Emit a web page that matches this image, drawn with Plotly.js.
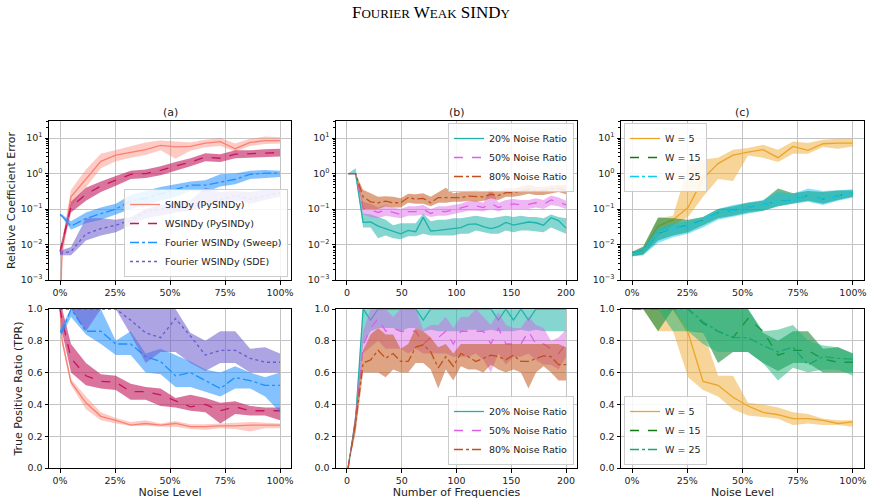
<!DOCTYPE html>
<html>
<head>
<meta charset="utf-8">
<script src="https://cdn.plot.ly/plotly-3.0.1.min.js"></script>
<style>html,body{margin:0;padding:0;background:#fff;}#chart{width:873px;height:503px;}</style>
</head>
<body>
<div id="chart"></div>
<script>
// ---------- data ----------
const noiseX = [0, 1, 5, 11.79, 18.57, 25.36, 32.14, 38.93, 45.71, 52.5, 59.29, 66.07, 72.86, 79.64, 86.43, 93.21, 100];
const freqX = [1, 7.86, 14.72, 21.59, 28.45, 35.31, 42.17, 49.03, 55.9, 62.76, 69.62, 76.48, 83.34, 90.21, 97.07, 103.93, 110.79, 117.66, 124.52, 131.38, 138.24, 145.1, 151.97, 158.83, 165.69, 172.55, 179.41, 186.28, 193.14, 200];

// (a) relative coefficient error
const sindyErr   = [1e-4, 0.008, 0.22, 0.7, 2.2, 3.3, 4.0, 4.7, 6.2, 5.6, 5.8, 7.2, 7.9, 5.0, 7.5, 8.4, 8.4];
const sindyErrLo = [1e-5, 0.004, 0.12, 0.4, 1.4, 2.2, 2.8, 3.3, 4.5, 2.6, 4.4, 5.5, 6.0, 4.2, 6.0, 6.8, 7.0];
const sindyErrHi = [4e-4, 0.013, 0.35, 1.3, 3.6, 4.6, 5.8, 7.5, 8.5, 8.0, 7.5, 9.0, 10.0, 7.0, 9.5, 11, 10.5];
const wsindyErr   = [0.0063, 0.011, 0.115, 0.26, 0.44, 0.65, 0.95, 1.0, 1.23, 1.63, 2.1, 2.9, 2.7, 3.5, 3.6, 3.8, 3.9];
const wsindyErrLo = [0.005, 0.008, 0.08, 0.17, 0.3, 0.45, 0.7, 0.75, 0.9, 1.2, 1.6, 2.2, 2.1, 2.7, 2.8, 2.9, 3.0];
const wsindyErrHi = [0.008, 0.015, 0.16, 0.4, 0.6, 0.85, 1.2, 1.3, 1.6, 2.1, 2.7, 3.7, 3.5, 4.5, 4.5, 4.8, 5.0];
const sweepErr   = [0.07, 0.063, 0.033, 0.054, 0.074, 0.10, 0.166, 0.2, 0.27, 0.35, 0.47, 0.47, 0.58, 0.69, 0.95, 1.03, 1.03];
const sweepErrLo = [0.065, 0.058, 0.026, 0.04, 0.05, 0.07, 0.1, 0.13, 0.17, 0.22, 0.32, 0.3, 0.43, 0.5, 0.7, 0.75, 0.8];
const sweepErrHi = [0.075, 0.07, 0.045, 0.08, 0.11, 0.14, 0.25, 0.33, 0.42, 0.5, 0.6, 0.65, 0.95, 1.0, 1.2, 1.25, 1.2];
const sdeErr   = [0.0058, 0.0058, 0.0063, 0.02, 0.028, 0.035, 0.048, 0.084, 0.098, 0.11, 0.13, 0.16, 0.18, 0.245, 0.19, 0.24, 0.29];
const sdeErrLo = [0.005, 0.005, 0.005, 0.013, 0.018, 0.022, 0.035, 0.055, 0.065, 0.08, 0.09, 0.12, 0.14, 0.17, 0.14, 0.18, 0.22];
const sdeErrHi = [0.007, 0.007, 0.0085, 0.055, 0.055, 0.05, 0.06, 0.1, 0.13, 0.16, 0.18, 0.4, 0.3, 0.32, 0.3, 0.35, 0.35];

// (a) true positive ratio
const sindyTpr   = [1.0, 0.8, 0.54, 0.41, 0.325, 0.30, 0.27, 0.28, 0.27, 0.28, 0.26, 0.26, 0.265, 0.265, 0.27, 0.27, 0.27];
const sindyTprLo = [1.0, 0.77, 0.52, 0.37, 0.30, 0.28, 0.265, 0.265, 0.26, 0.26, 0.245, 0.24, 0.25, 0.245, 0.23, 0.25, 0.25];
const sindyTprHi = [1.0, 0.83, 0.56, 0.45, 0.35, 0.315, 0.29, 0.30, 0.28, 0.295, 0.275, 0.275, 0.28, 0.285, 0.29, 0.285, 0.28];
const wsindyTpr   = [1.0, 0.93, 0.69, 0.58, 0.545, 0.54, 0.48, 0.48, 0.46, 0.42, 0.385, 0.40, 0.36, 0.385, 0.36, 0.36, 0.36];
const wsindyTprLo = [1.0, 0.85, 0.6, 0.52, 0.5, 0.49, 0.43, 0.43, 0.39, 0.38, 0.36, 0.35, 0.28, 0.34, 0.33, 0.33, 0.3];
const wsindyTprHi = [1.0, 1.0, 0.78, 0.66, 0.59, 0.58, 0.53, 0.51, 0.5, 0.44, 0.46, 0.44, 0.41, 0.42, 0.39, 0.38, 0.38];
const sweepTpr   = [0.86, 0.86, 1.0, 0.86, 0.86, 0.78, 0.78, 0.70, 0.67, 0.58, 0.60, 0.55, 0.50, 0.57, 0.55, 0.52, 0.52];
const sweepTprLo = [0.85, 0.84, 0.95, 0.84, 0.78, 0.71, 0.71, 0.6, 0.59, 0.51, 0.51, 0.48, 0.45, 0.5, 0.5, 0.45, 0.35];
const sweepTprHi = [0.87, 0.9, 1.0, 1.0, 1.0, 0.80, 0.86, 0.72, 0.75, 0.71, 0.67, 0.62, 0.60, 0.64, 0.60, 0.57, 0.6];
const sdeTpr   = [1.0, 1.0, 1.0, 1.0, 1.0, 1.0, 0.93, 0.85, 0.82, 0.94, 0.83, 0.71, 0.74, 0.74, 0.69, 0.665, 0.665];
const sdeTprLo = [1.0, 1.0, 1.0, 0.86, 1.0, 1.0, 0.84, 0.66, 0.73, 0.73, 0.66, 0.61, 0.66, 0.66, 0.6, 0.6, 0.6];
const sdeTprHi = [1.0, 1.0, 1.0, 1.0, 1.0, 1.0, 1.0, 1.0, 1.0, 1.0, 0.85, 0.8, 0.86, 0.86, 0.75, 0.76, 0.72];

// (b) relative coefficient error
const n20Err   = [1.0, 1.0, 0.042, 0.043, 0.033, 0.028, 0.023, 0.02, 0.025, 0.023, 0.058, 0.024, 0.025, 0.027, 0.029, 0.03, 0.037, 0.038, 0.032, 0.028, 0.032, 0.042, 0.035, 0.039, 0.043, 0.041, 0.035, 0.057, 0.047, 0.029];
const n20ErrLo = [1.0, 0.95, 0.03, 0.03, 0.015, 0.018, 0.015, 0.014, 0.017, 0.017, 0.02, 0.018, 0.018, 0.018, 0.018, 0.02, 0.02, 0.025, 0.022, 0.02, 0.02, 0.025, 0.022, 0.025, 0.025, 0.024, 0.022, 0.03, 0.025, 0.02];
const n20ErrHi = [1.0, 1.4, 0.075, 0.07, 0.06, 0.05, 0.035, 0.04, 0.04, 0.04, 0.075, 0.045, 0.05, 0.05, 0.055, 0.055, 0.06, 0.065, 0.06, 0.055, 0.06, 0.065, 0.06, 0.065, 0.06, 0.06, 0.055, 0.07, 0.06, 0.055];
const n50Err   = [1.0, 1.0, 0.104, 0.094, 0.08, 0.094, 0.08, 0.07, 0.084, 0.084, 0.098, 0.075, 0.088, 0.084, 0.094, 0.105, 0.123, 0.123, 0.11, 0.145, 0.11, 0.13, 0.14, 0.13, 0.135, 0.15, 0.135, 0.18, 0.16, 0.13];
const n50ErrLo = [1.0, 1.0, 0.07, 0.06, 0.055, 0.065, 0.06, 0.055, 0.065, 0.065, 0.07, 0.06, 0.065, 0.065, 0.07, 0.08, 0.09, 0.09, 0.085, 0.1, 0.085, 0.1, 0.1, 0.1, 0.1, 0.11, 0.1, 0.13, 0.12, 0.1];
const n50ErrHi = [1.0, 1.0, 0.16, 0.14, 0.11, 0.13, 0.11, 0.1, 0.12, 0.12, 0.13, 0.1, 0.12, 0.12, 0.13, 0.14, 0.17, 0.17, 0.15, 0.4, 0.15, 0.18, 0.19, 0.18, 0.18, 0.2, 0.18, 0.24, 0.21, 0.17];
const n80Err   = [1.0, 1.0, 0.22, 0.16, 0.15, 0.167, 0.15, 0.15, 0.21, 0.19, 0.2, 0.15, 0.21, 0.21, 0.21, 0.21, 0.23, 0.22, 0.22, 0.26, 0.24, 0.29, 0.29, 0.32, 0.36, 0.33, 0.33, 0.36, 0.38, 0.34];
const n80ErrLo = [1.0, 1.0, 0.1, 0.1, 0.1, 0.12, 0.11, 0.11, 0.15, 0.14, 0.14, 0.12, 0.15, 0.15, 0.16, 0.16, 0.17, 0.16, 0.17, 0.2, 0.18, 0.22, 0.22, 0.24, 0.27, 0.25, 0.25, 0.28, 0.3, 0.26];
const n80ErrHi = [1.0, 1.0, 0.35, 0.28, 0.22, 0.23, 0.22, 0.2, 0.27, 0.26, 0.28, 0.22, 0.3, 0.4, 0.28, 0.3, 0.32, 0.35, 0.3, 0.35, 0.32, 0.38, 0.38, 0.42, 0.48, 0.42, 0.42, 0.46, 0.48, 0.45];

// (b) true positive ratio
const n20Tpr   = [0, 0.3, 1.0, 0.93, 1.0, 1.0, 1.0, 1.0, 1.0, 1.0, 0.93, 1.0, 1.0, 1.0, 1.0, 1.0, 1.0, 1.0, 1.0, 1.0, 0.93, 1.0, 0.93, 1.0, 0.93, 1.0, 1.0, 1.0, 1.0, 1.0];
const n20TprLo = [0, 0.25, 0.78, 0.86, 0.88, 0.88, 0.88, 0.86, 0.88, 0.88, 0.86, 0.87, 0.86, 0.86, 0.86, 0.86, 0.87, 0.87, 0.86, 0.87, 0.86, 0.86, 0.86, 0.87, 0.86, 0.87, 0.86, 0.86, 0.86, 0.86];
const n20TprHi = [0, 0.35, 1.0, 1.0, 1.0, 1.0, 1.0, 1.0, 1.0, 1.0, 1.0, 1.0, 1.0, 1.0, 1.0, 1.0, 1.0, 1.0, 1.0, 1.0, 1.0, 1.0, 1.0, 1.0, 1.0, 1.0, 1.0, 1.0, 1.0, 1.0];
const n50Tpr   = [0, 0.3, 0.77, 0.88, 0.94, 0.86, 0.88, 0.86, 0.86, 0.86, 0.78, 0.82, 0.82, 0.86, 0.78, 0.86, 0.86, 0.86, 0.86, 0.78, 0.88, 0.78, 0.78, 0.78, 0.86, 0.78, 0.78, 0.75, 0.72, 0.78];
const n50TprLo = [0, 0.25, 0.72, 0.76, 0.8, 0.75, 0.75, 0.75, 0.72, 0.75, 0.72, 0.72, 0.72, 0.72, 0.7, 0.7, 0.7, 0.72, 0.68, 0.6, 0.72, 0.65, 0.7, 0.7, 0.72, 0.68, 0.65, 0.65, 0.62, 0.7];
const n50TprHi = [0, 0.35, 0.86, 1.0, 1.0, 1.0, 0.95, 1.0, 1.0, 1.0, 0.87, 0.9, 0.9, 0.95, 0.88, 0.95, 0.95, 1.0, 0.95, 0.9, 0.98, 0.9, 0.88, 0.88, 0.95, 0.9, 0.88, 0.8, 0.82, 0.87];
const n80Tpr   = [0, 0.28, 0.66, 0.68, 0.74, 0.69, 0.72, 0.67, 0.67, 0.76, 0.775, 0.73, 0.63, 0.70, 0.64, 0.72, 0.70, 0.67, 0.69, 0.71, 0.70, 0.68, 0.71, 0.67, 0.67, 0.69, 0.705, 0.70, 0.65, 0.65];
const n80TprLo = [0, 0.22, 0.6, 0.6, 0.6, 0.57, 0.62, 0.6, 0.6, 0.66, 0.66, 0.62, 0.5, 0.62, 0.55, 0.64, 0.62, 0.62, 0.6, 0.65, 0.62, 0.6, 0.62, 0.6, 0.5, 0.6, 0.64, 0.6, 0.55, 0.55];
const n80TprHi = [0, 0.34, 0.74, 0.84, 0.88, 0.84, 0.84, 0.75, 0.78, 0.88, 0.86, 0.82, 0.76, 0.78, 0.72, 0.78, 0.78, 0.78, 0.78, 0.78, 0.78, 0.78, 0.78, 0.78, 0.78, 0.78, 0.78, 0.78, 0.78, 0.76];

// (c) relative coefficient error
const w5Err   = [0.0056, 0.0058, 0.0069, 0.033, 0.05, 0.11, 0.72, 1.9, 3.3, 4.0, 4.7, 2.8, 5.8, 4.5, 6.9, 7.2, 7.2];
const w5ErrLo = [0.0048, 0.005, 0.005, 0.018, 0.035, 0.06, 0.22, 0.7, 0.62, 3.2, 2.8, 2.1, 3.6, 3.6, 5.6, 5.0, 5.8];
const w5ErrHi = [0.0065, 0.0068, 0.009, 0.055, 0.065, 1.6, 2.5, 2.8, 4.7, 5.2, 6.5, 4.7, 8.0, 7.2, 9.0, 9.6, 9.6];
const w15Err   = [0.0056, 0.0056, 0.0066, 0.021, 0.028, 0.035, 0.048, 0.079, 0.093, 0.11, 0.135, 0.16, 0.18, 0.245, 0.19, 0.24, 0.29];
const w15ErrLo = [0.0047, 0.0048, 0.0052, 0.013, 0.018, 0.022, 0.035, 0.055, 0.065, 0.08, 0.09, 0.12, 0.14, 0.17, 0.14, 0.18, 0.22];
const w15ErrHi = [0.0065, 0.0066, 0.0085, 0.058, 0.055, 0.05, 0.06, 0.1, 0.12, 0.15, 0.17, 0.38, 0.28, 0.32, 0.3, 0.33, 0.34];
const w25Err   = [0.0055, 0.0056, 0.0065, 0.022, 0.028, 0.033, 0.047, 0.08, 0.092, 0.11, 0.135, 0.16, 0.175, 0.25, 0.19, 0.24, 0.29];
const w25ErrLo = [0.0046, 0.0047, 0.005, 0.011, 0.016, 0.02, 0.03, 0.05, 0.06, 0.075, 0.09, 0.12, 0.14, 0.16, 0.13, 0.17, 0.21];
const w25ErrHi = [0.0064, 0.0065, 0.0085, 0.03, 0.04, 0.045, 0.06, 0.1, 0.13, 0.15, 0.18, 0.3, 0.27, 0.38, 0.32, 0.34, 0.36];

// (c) true positive ratio
const w5Tpr   = [1, 1, 1, 1, 1, 0.85, 0.545, 0.52, 0.445, 0.39, 0.35, 0.335, 0.31, 0.31, 0.30, 0.28, 0.29];
const w5TprLo = [1, 1, 1, 0.86, 0.86, 0.57, 0.49, 0.45, 0.37, 0.33, 0.32, 0.31, 0.27, 0.28, 0.27, 0.27, 0.26];
const w5TprHi = [1, 1, 1, 1, 1, 0.86, 0.86, 0.58, 0.58, 0.41, 0.40, 0.38, 0.35, 0.34, 0.31, 0.30, 0.30];
const w15Tpr   = [1, 1, 1, 1, 1, 1, 0.91, 0.86, 0.82, 0.94, 0.86, 0.71, 0.74, 0.74, 0.685, 0.665, 0.665];
const w15TprLo = [1, 1, 1, 0.86, 1, 0.86, 0.85, 0.66, 0.73, 0.73, 0.66, 0.61, 0.66, 0.66, 0.6, 0.6, 0.6];
const w15TprHi = [1, 1, 1, 1, 1, 1, 1, 1, 1, 1, 0.85, 0.8, 0.86, 0.86, 0.75, 0.76, 0.72];
const w25Tpr   = [1, 1, 1, 1, 1, 1, 0.92, 0.86, 0.82, 0.82, 0.77, 0.73, 0.76, 0.65, 0.70, 0.69, 0.685];
const w25TprLo = [1, 1, 1, 1, 0.86, 0.86, 0.78, 0.73, 0.73, 0.73, 0.66, 0.55, 0.63, 0.6, 0.62, 0.62, 0.58];
const w25TprHi = [1, 1, 1, 1, 1, 1, 1, 1, 1, 1, 0.86, 0.87, 0.9, 0.8, 0.77, 0.76, 0.72];

// tick labels
const pctTickVals = [0, 25, 50, 75, 100];
const pctTickText = ['0%', '25%', '50%', '75%', '100%'];
const freqTickVals = [0, 50, 100, 150, 200];
const logTickVals = [0.001, 0.01, 0.1, 1, 10];
const logTickText = ['10<sup>−3</sup>', '10<sup>−2</sup>', '10<sup>−1</sup>', '10<sup>0</sup>', '10<sup>1</sup>'];
const tprTickVals = [0, 0.2, 0.4, 0.6, 0.8, 1.0];
const tprTickText = ['0.0', '0.2', '0.4', '0.6', '0.8', '1.0'];

// ---------- traces ----------
const traces = [];
function band(x, lo, hi, color, xa, ya) {
  traces.push({
    x: x.concat(x.slice().reverse()),
    y: hi.concat(lo.slice().reverse()),
    xaxis: xa, yaxis: ya, type: 'scatter', mode: 'lines',
    fill: 'toself', fillcolor: color, line: {width: 0, color: 'rgba(0,0,0,0)'},
    hoverinfo: 'skip', showlegend: false
  });
}
function line(x, y, name, color, dash, xa, ya, legend) {
  traces.push({
    x: x, y: y, name: name, xaxis: xa, yaxis: ya, type: 'scatter', mode: 'lines',
    line: {color: color, width: 1.3, dash: dash},
    showlegend: !!legend, legend: legend || 'legend'
  });
}

const C = {
  sindy: '#fa8072', sindyB: 'rgba(250,128,114,0.42)',
  wsindy: '#c2185b', wsindyB: 'rgba(194,24,91,0.6)',
  sweep: '#1e90ff', sweepB: 'rgba(30,144,255,0.55)',
  sde: '#6a5acd', sdeB: 'rgba(106,90,205,0.55)',
  n20: '#20b2aa', n20B: 'rgba(32,178,170,0.55)',
  n50: '#da60e6', n50B: 'rgba(218,96,230,0.45)',
  n80: '#c2501c', n80B: 'rgba(194,90,30,0.55)',
  w5: '#eba52a', w5B: 'rgba(240,170,50,0.5)',
  w15: '#117a11', w15B: 'rgba(20,140,60,0.6)',
  w25t: '#12c8ee', w25tB: 'rgba(0,190,240,0.45)',
  w25b: '#14aa78', w25bB: 'rgba(30,180,120,0.5)'
};

// (a) top
band(noiseX, sindyErrLo, sindyErrHi, C.sindyB, 'x', 'y');
line(noiseX, sindyErr, 'SINDy (PySINDy)', C.sindy, 'solid', 'x', 'y', 'legend');
band(noiseX, wsindyErrLo, wsindyErrHi, C.wsindyB, 'x', 'y');
line(noiseX, wsindyErr, 'WSINDy (PySINDy)', C.wsindy, 'dash', 'x', 'y', 'legend');
band(noiseX, sweepErrLo, sweepErrHi, C.sweepB, 'x', 'y');
line(noiseX, sweepErr, 'Fourier WSINDy (Sweep)', C.sweep, 'dashdot', 'x', 'y', 'legend');
band(noiseX, sdeErrLo, sdeErrHi, C.sdeB, 'x', 'y');
line(noiseX, sdeErr, 'Fourier WSINDy (SDE)', C.sde, 'dot', 'x', 'y', 'legend');
// (b) top
band(freqX, n20ErrLo, n20ErrHi, C.n20B, 'x2', 'y2');
line(freqX, n20Err, '20% Noise Ratio', C.n20, 'solid', 'x2', 'y2', 'legend2');
band(freqX, n50ErrLo, n50ErrHi, C.n50B, 'x2', 'y2');
line(freqX, n50Err, '50% Noise Ratio', C.n50, 'dash', 'x2', 'y2', 'legend2');
band(freqX, n80ErrLo, n80ErrHi, C.n80B, 'x2', 'y2');
line(freqX, n80Err, '80% Noise Ratio', C.n80, 'dashdot', 'x2', 'y2', 'legend2');
// (c) top
band(noiseX, w5ErrLo, w5ErrHi, C.w5B, 'x3', 'y3');
line(noiseX, w5Err, 'W = 5', C.w5, 'solid', 'x3', 'y3', 'legend3');
band(noiseX, w15ErrLo, w15ErrHi, C.w15B, 'x3', 'y3');
line(noiseX, w15Err, 'W = 15', C.w15, 'dash', 'x3', 'y3', 'legend3');
band(noiseX, w25ErrLo, w25ErrHi, C.w25tB, 'x3', 'y3');
line(noiseX, w25Err, 'W = 25', C.w25t, 'dashdot', 'x3', 'y3', 'legend3');
// (a) bottom
band(noiseX, sindyTprLo, sindyTprHi, C.sindyB, 'x4', 'y4');
line(noiseX, sindyTpr, 'SINDy (PySINDy)', C.sindy, 'solid', 'x4', 'y4');
band(noiseX, wsindyTprLo, wsindyTprHi, C.wsindyB, 'x4', 'y4');
line(noiseX, wsindyTpr, 'WSINDy (PySINDy)', C.wsindy, 'dash', 'x4', 'y4');
band(noiseX, sweepTprLo, sweepTprHi, C.sweepB, 'x4', 'y4');
line(noiseX, sweepTpr, 'Fourier WSINDy (Sweep)', C.sweep, 'dashdot', 'x4', 'y4');
band(noiseX, sdeTprLo, sdeTprHi, C.sdeB, 'x4', 'y4');
line(noiseX, sdeTpr, 'Fourier WSINDy (SDE)', C.sde, 'dot', 'x4', 'y4');
// (b) bottom
band(freqX, n20TprLo, n20TprHi, C.n20B, 'x5', 'y5');
line(freqX, n20Tpr, '20% Noise Ratio', C.n20, 'solid', 'x5', 'y5', 'legend4');
band(freqX, n50TprLo, n50TprHi, C.n50B, 'x5', 'y5');
line(freqX, n50Tpr, '50% Noise Ratio', C.n50, 'dash', 'x5', 'y5', 'legend4');
band(freqX, n80TprLo, n80TprHi, C.n80B, 'x5', 'y5');
line(freqX, n80Tpr, '80% Noise Ratio', C.n80, 'dashdot', 'x5', 'y5', 'legend4');
// (c) bottom
band(noiseX, w5TprLo, w5TprHi, C.w5B, 'x6', 'y6');
line(noiseX, w5Tpr, 'W = 5', C.w5, 'solid', 'x6', 'y6', 'legend5');
band(noiseX, w15TprLo, w15TprHi, C.w15B, 'x6', 'y6');
line(noiseX, w15Tpr, 'W = 15', C.w15, 'dash', 'x6', 'y6', 'legend5');
band(noiseX, w25TprLo, w25TprHi, C.w25bB, 'x6', 'y6');
line(noiseX, w25Tpr, 'W = 25', C.w25b, 'dashdot', 'x6', 'y6', 'legend5');

// ---------- layout ----------
const F = 'DejaVu Sans, sans-serif';
const W = 873, H = 503;
const colX = [[49, 291], [336, 577], [621, 864]];
const rowY = [[121, 280], [309, 468]];
function dx(c) { return [colX[c][0] / W, colX[c][1] / W]; }
function dy(r) { return [1 - rowY[r][1] / H, 1 - rowY[r][0] / H]; }
function ax(extra) {
  return Object.assign({
    showline: true, mirror: true, linecolor: '#000', linewidth: 1,
    ticks: 'outside', ticklen: 3.5, tickwidth: 1, tickcolor: '#000',
    showgrid: true, gridcolor: '#c4c4c4', gridwidth: 1, zeroline: false,
    tickfont: {family: F, size: 9.5, color: '#222'}, automargin: false
  }, extra);
}
const pctX = (c, r, anchor, title) => ax({domain: dx(c), anchor: anchor, range: [-5, 105], tickmode: 'array', tickvals: pctTickVals, ticktext: pctTickText,
  title: title ? {text: title, font: {family: F, size: 11, color: '#222'}, standoff: 3} : undefined});
const logY = (c, r, anchor, title) => ax({domain: dy(r), anchor: anchor, type: 'log', range: [-3, 1.48], tickmode: 'array', tickvals: logTickVals, ticktext: logTickText,
  minor: {ticks: 'outside', ticklen: 2, tickcolor: '#000', dtick: 'D1', showgrid: false},
  title: title ? {text: title, font: {family: F, size: 11, color: '#222'}, standoff: 2} : undefined});
const tprY = (c, r, anchor, title) => ax({domain: dy(r), anchor: anchor, range: [0, 1], tickmode: 'array', tickvals: tprTickVals, ticktext: tprTickText,
  title: title ? {text: title, font: {family: F, size: 11, color: '#222'}, standoff: 2} : undefined});

const legBase = {bgcolor: 'rgba(255,255,255,0.85)', bordercolor: '#cccccc', borderwidth: 1,
  font: {family: F, size: 9.5, color: '#222'}, tracegroupgap: 0, itemwidth: 30};

const layout = {
  width: W, height: H, margin: {l: 0, r: 0, t: 0, b: 0},
  paper_bgcolor: '#fff', plot_bgcolor: '#fff',
  font: {family: F, color: '#222'},
  xaxis: pctX(0, 0, 'y'),
  yaxis: logY(0, 0, 'x', 'Relative Coefficient Error'),
  xaxis2: ax({domain: dx(1), anchor: 'y2', range: [-10, 210], tickmode: 'array', tickvals: freqTickVals}),
  yaxis2: logY(1, 0, 'x2'),
  xaxis3: pctX(2, 0, 'y3'),
  yaxis3: logY(2, 0, 'x3'),
  xaxis4: pctX(0, 1, 'y4', 'Noise Level'),
  yaxis4: tprY(0, 1, 'x4', 'True Positive Ratio (TPR)'),
  xaxis5: ax({domain: dx(1), anchor: 'y5', range: [-10, 210], tickmode: 'array', tickvals: freqTickVals,
    title: {text: 'Number of Frequencies', font: {family: F, size: 11, color: '#222'}, standoff: 3}}),
  yaxis5: tprY(1, 1, 'x5'),
  xaxis6: pctX(2, 1, 'y6', 'Noise Level'),
  yaxis6: tprY(2, 1, 'x6'),
  legend: Object.assign({}, legBase, {x: 288 / W, y: 1 - 277 / H, xanchor: 'right', yanchor: 'bottom'}),
  legend2: Object.assign({}, legBase, {x: 574 / W, y: 1 - 123 / H, xanchor: 'right', yanchor: 'top'}),
  legend3: Object.assign({}, legBase, {x: 624 / W, y: 1 - 123 / H, xanchor: 'left', yanchor: 'top'}),
  legend4: Object.assign({}, legBase, {x: 574 / W, y: 1 - 465 / H, xanchor: 'right', yanchor: 'bottom'}),
  legend5: Object.assign({}, legBase, {x: 624 / W, y: 1 - 465 / H, xanchor: 'left', yanchor: 'bottom'}),
  annotations: [
    {text: 'F<span style="font-size:13px">OURIER</span> W<span style="font-size:13px">EAK</span> SIND<span style="font-size:13px">Y</span>',
     xref: 'paper', yref: 'paper', x: 431 / W, y: 1 - 13 / H, xanchor: 'center', yanchor: 'middle', showarrow: false,
     font: {family: 'Liberation Serif, Times New Roman, serif', size: 17, color: '#000'}},
    {text: '(a)', xref: 'paper', yref: 'paper', x: 170 / W, y: 1 - 113 / H, xanchor: 'center', yanchor: 'middle', showarrow: false, font: {family: F, size: 11, color: '#222'}},
    {text: '(b)', xref: 'paper', yref: 'paper', x: 456.5 / W, y: 1 - 113 / H, xanchor: 'center', yanchor: 'middle', showarrow: false, font: {family: F, size: 11, color: '#222'}},
    {text: '(c)', xref: 'paper', yref: 'paper', x: 742.5 / W, y: 1 - 113 / H, xanchor: 'center', yanchor: 'middle', showarrow: false, font: {family: F, size: 11, color: '#222'}}
  ]
};

Plotly.newPlot('chart', traces, layout, {displayModeBar: false, staticPlot: true});
</script>
</body>
</html>
